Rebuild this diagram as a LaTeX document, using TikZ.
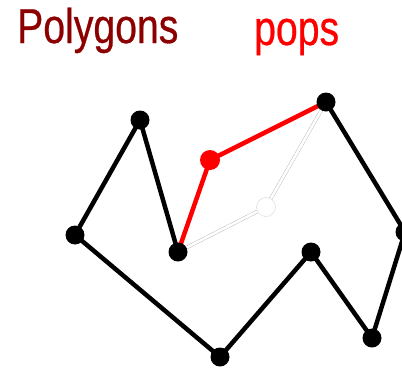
\documentclass[tikz,border=0pt]{standalone}
\usepackage{fontspec}
\setmainfont{Liberation Sans}
\newfontfamily\headfont[FakeBold=0.6]{Liberation Sans}
\definecolor{titlered}{RGB}{140,0,0}
\definecolor{popred}{RGB}{255,0,0}
\begin{document}
\begin{tikzpicture}[x=1pt,y=-1pt,
  vert/.style={circle,fill=black,inner sep=0pt,minimum size=19pt},
  popvert/.style={circle,fill=popred,inner sep=0pt,minimum size=20pt},
  ghostvert/.style={circle,fill=white,draw=black!12,line width=0.6pt,inner sep=0pt,minimum size=19pt},
  edge/.style={line width=4.5pt,black},
  popedge/.style={line width=4.5pt,popred},
  ghostedge/.style={draw=black!30,line width=0.4pt,double=white,double distance=2.6pt},
  label/.style={inner sep=0pt,font=\headfont\fontsize{49}{49}\selectfont,xscale=0.8}]
\useasboundingbox (0,0) rectangle (402,370);
\clip (0,0) rectangle (402,370);

\node[label,text=titlered,anchor=base west] (title) at (17,43) {Polygons};
\node[label,text=popred,anchor=base west] (pops) at (254,45) {pops};

% polygon vertices
\coordinate (a) at (140,120);
\coordinate (b) at (75,235);
\coordinate (c) at (220,357);
\coordinate (d) at (311,252);
\coordinate (e) at (372,338);
\coordinate (f) at (405,232);
\coordinate (g) at (326,102);
\coordinate (h) at (266,207);
\coordinate (i) at (178,252);
\coordinate (j) at (210,160);

% removed vertex path
\draw[ghostedge] (g) -- (h) -- (i);

% polygon outline
\draw[edge,line join=round] (i) -- (a) -- (b) -- (c) -- (d) -- (e) -- (f) -- (g);
\draw[popedge,line join=round] (g) -- (j) -- (i);

% vertex markers
\node[ghostvert] (nh) at (h) {};
\foreach \p in {a,b,c,d,e,f,g,i}
  \node[vert] (n\p) at (\p) {};
\node[popvert] (nj) at (j) {};
\end{tikzpicture}
\end{document}
